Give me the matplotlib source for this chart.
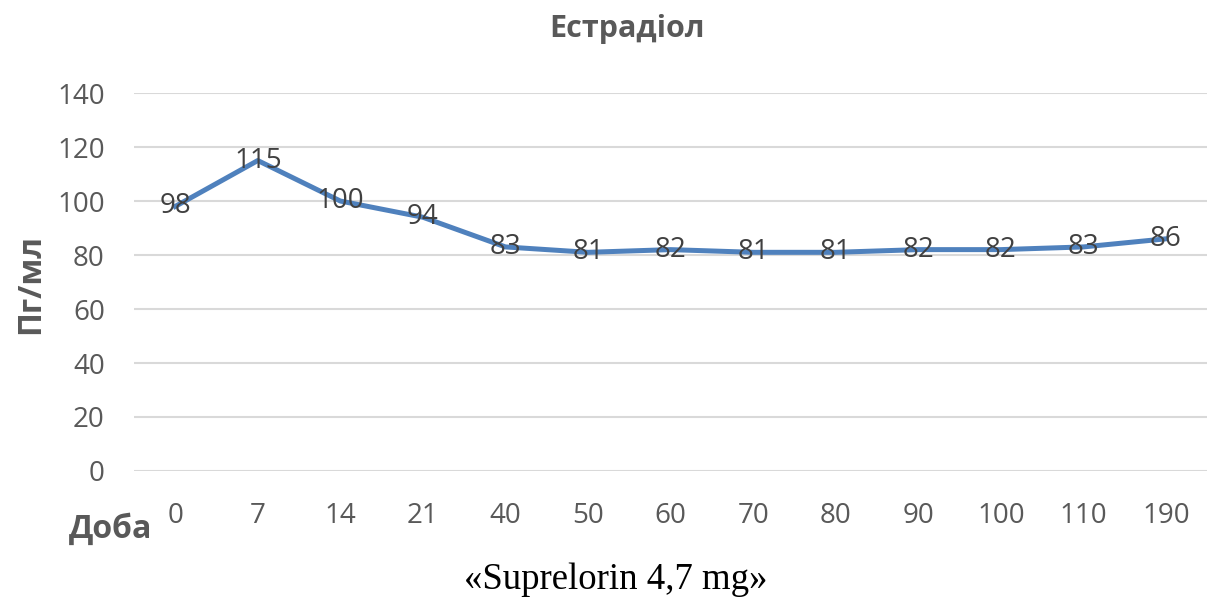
import matplotlib.pyplot as plt
import numpy as np

days = ['0', '7', '14', '21', '40', '50', '60', '70', '80', '90', '100', '110', '190']
estradiol = [98, 115, 100, 94, 83, 81, 82, 81, 81, 82, 82, 83, 86]
yticks = [0, 20, 40, 60, 80, 100, 120, 140]

grey = '#595959'
plt.rcParams['font.family'] = ['Open Sans', 'DejaVu Sans']

fig = plt.figure(figsize=(12.1, 5.98), dpi=100)
ax = fig.add_axes([0.1107, 0.2124, 0.887, 0.632])

x = np.arange(len(days))
ax.plot(x, estradiol, color='#4F81BD', lw=3.6, solid_joinstyle='round', zorder=3)
for xi, v in zip(x, estradiol):
    ax.text(xi, v, str(v), ha='center', va='center', fontsize=20, color='#404040', zorder=4)

ax.set_xlim(-0.5, len(days) - 0.5)
ax.set_ylim(0, 140)
ax.set_yticks(yticks)
ax.set_xticks(x)
ax.set_xticklabels(days)
ax.tick_params(axis='both', length=0, labelsize=20, labelcolor=grey)
ax.tick_params(axis='x', pad=22)
ax.tick_params(axis='y', pad=21)
ax.grid(axis='y', color='#D9D9D9', lw=1.5)
ax.set_axisbelow(True)
for s in ax.spines.values():
    s.set_visible(False)

fig.text(0.518, 0.952, 'Естрадіол', ha='center', va='center', fontsize=22, fontweight='bold', color=grey)
fig.text(0.025, 0.525, 'Пг/мл', ha='center', va='center', rotation=90, fontsize=23, fontweight='bold', color=grey)
fig.text(0.091, 0.115, 'Доба', ha='center', va='center', fontsize=23, fontweight='bold', color=grey)
fig.text(0.509, 0.03, '«Suprelorin 4,7 mg»', ha='center', va='center', fontsize=26.5,
         family='Liberation Serif', color='black')

fig.savefig('out.png', dpi=100)
